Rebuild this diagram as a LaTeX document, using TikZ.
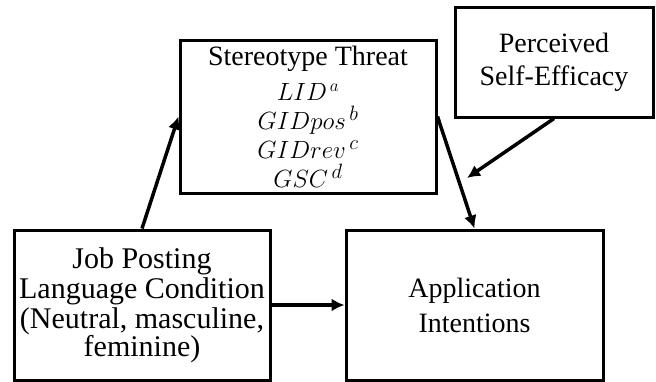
\documentclass[tikz,border=0pt]{standalone}
\usepackage{fontspec}
\setmainfont{Liberation Serif}
\usepackage{amsmath}
\usetikzlibrary{arrows.meta,calc}

\begin{document}
\begin{tikzpicture}[x=1pt,y=-1pt,
    box/.style={draw, line width=3pt, align=center, inner sep=0pt},
    link/.style={line width=3.5pt, -{Latex[length=13pt,width=13pt]}}]
    \useasboundingbox (0,0) rectangle (656,381);
    % boxes
    \node[box, minimum width=256pt, minimum height=153pt,
          font=\fontsize{28}{29}\selectfont] (threat) at (308,116.5)
        {Stereotype Threat\\[6pt]
         \fontsize{25}{29}\selectfont $LID^{\,a}$\\ $GIDpos^{\,b}$\\ $GIDrev^{\,c}$\\ $GSC^{\,d}$};
    \node[box, minimum width=198pt, minimum height=110pt,
          font=\fontsize{28}{33}\selectfont] (efficacy) at (554,62)
        {Perceived\\Self-Efficacy};
    \node[box, minimum width=256pt, minimum height=150pt,
          font=\fontsize{30}{30}\selectfont] (job) at (142,305)
        {Job Posting\\Language Condition\\(Neutral, masculine,\\[-2pt]feminine)};
    \node[box, minimum width=257pt, minimum height=150pt,
          font=\fontsize{28}{35}\selectfont] (app) at (474.5,305)
        {Application\\Intentions};
    % paths
    \coordinate (mod) at (467,178);
    \draw[link] (job.north) -- (threat.west);
    \draw[link] (threat.east) -- (app.north);
    \draw[link] (efficacy.south) -- (mod);
    \draw[link] (job.east) -- (app.west);
\end{tikzpicture}
\end{document}
